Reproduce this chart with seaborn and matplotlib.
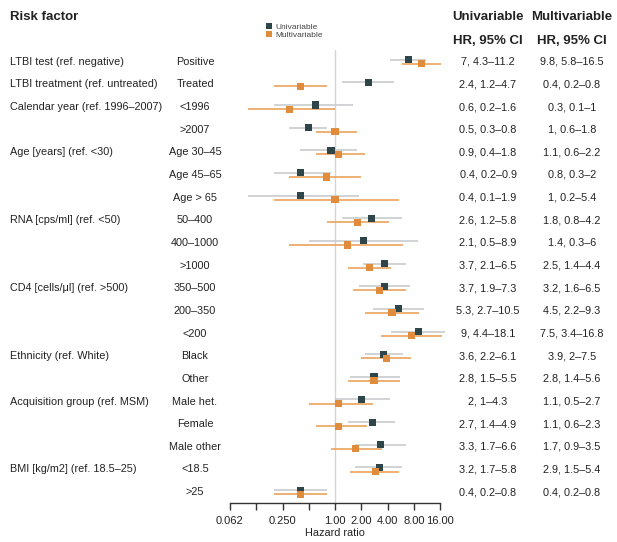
import numpy as np
import pandas as pd
import matplotlib
matplotlib.use("Agg")
import matplotlib.pyplot as plt
import matplotlib.transforms as mtransforms
import seaborn as sns

# ---- data -------------------------------------------------------------
groups = [
    "LTBI test (ref. negative)", "LTBI treatment (ref. untreated)",
    "Calendar year (ref. 1996\u20132007)", "",
    "Age [years] (ref. <30)", "", "",
    "RNA [cps/ml] (ref. <50)", "", "",
    "CD4 [cells/\u03bcl] (ref. >500)", "", "",
    "Ethnicity (ref. White)", "",
    "Acquisition group (ref. MSM)", "", "",
    "BMI [kg/m2] (ref. 18.5\u201325)", "",
]
levels = [
    "Positive", "Treated", "<1996", ">2007",
    "Age 30\u201345", "Age 45\u201365", "Age > 65",
    "50\u2013400", "400\u20131000", ">1000",
    "350\u2013500", "200\u2013350", "<200",
    "Black", "Other",
    "Male het.", "Female", "Male other",
    "<18.5", ">25",
]
uni_hr = [7, 2.4, 0.6, 0.5, 0.9, 0.4, 0.4, 2.6, 2.1, 3.7,
          3.7, 5.3, 9, 3.6, 2.8, 2, 2.7, 3.3, 3.2, 0.4]
uni_lo = [4.3, 1.2, 0.2, 0.3, 0.4, 0.2, 0.1, 1.2, 0.5, 2.1,
          1.9, 2.7, 4.4, 2.2, 1.5, 1, 1.4, 1.7, 1.7, 0.2]
uni_hi = [11.2, 4.7, 1.6, 0.8, 1.8, 0.9, 1.9, 5.8, 8.9, 6.5,
          7.3, 10.5, 18.1, 6.1, 5.5, 4.3, 4.9, 6.6, 5.8, 0.8]
multi_hr = [9.8, 0.4, 0.3, 1, 1.1, 0.8, 1, 1.8, 1.4, 2.5,
            3.2, 4.5, 7.5, 3.9, 2.8, 1.1, 1.1, 1.7, 2.9, 0.4]
multi_lo = [5.8, 0.2, 0.1, 0.6, 0.6, 0.3, 0.2, 0.8, 0.3, 1.4,
            1.6, 2.2, 3.4, 2, 1.4, 0.5, 0.6, 0.9, 1.5, 0.2]
multi_hi = [16.5, 0.8, 1, 1.8, 2.2, 2, 5.4, 4.2, 6, 4.4,
            6.5, 9.3, 16.8, 7.5, 5.6, 2.7, 2.3, 3.5, 5.4, 0.8]
models = ["Univariable", "Multivariable"]
tick_values = [0.0625, 0.125, 0.25, 0.5, 1, 2, 4, 8, 16]
tick_labels = ["0.062", "", "0.250", "", "1.00", "2.00", "4.00", "8.00", "16.00"]

# ---- styling ----------------------------------------------------------
sns.set_theme(style="white")
plt.rcParams["font.family"] = ["Liberation Sans", "DejaVu Sans"]
TEXT = "#222222"
COL_UNI = "#2E4549"
COL_MULTI = "#E08C3C"
LINE_UNI = "#C8CBCC"
LINE_MULTI = "#EBA35E"
BODY = 7.8

W, H = 617, 542
fig = plt.figure(figsize=(W / 100, H / 100), dpi=100)

def fx(px):
    return px / W

def fy(py):
    return 1 - py / H

# plot panel: x from 230px to 440px, spine at 503px, top at 50px
ax = fig.add_axes([fx(230), fy(503), fx(440) - fx(230), (503 - 50) / H])

n = len(levels)
rows = np.arange(n)
offset = 0.09
df = pd.concat([
    pd.DataFrame({"row": rows, "y": rows - offset, "model": models[0],
                  "hr": uni_hr, "lo": uni_lo, "hi": uni_hi}),
    pd.DataFrame({"row": rows, "y": rows + offset, "model": models[1],
                  "hr": multi_hr, "lo": multi_lo, "hi": multi_hi}),
], ignore_index=True)

ax.axvline(1, color="#D4D4D4", lw=1.0, zorder=0)

line_cols = {models[0]: LINE_UNI, models[1]: LINE_MULTI}
for m in models:
    sub = df[df["model"] == m]
    ax.hlines(sub["y"], sub["lo"], sub["hi"], color=line_cols[m],
              lw=1.2, zorder=1, clip_on=False)

sns.scatterplot(data=df, x="hr", y="y", hue="model", hue_order=models,
                palette={models[0]: COL_UNI, models[1]: COL_MULTI},
                marker="s", s=26, linewidth=0, ax=ax, zorder=3,
                legend=True)

ax.set_xscale("log", base=2)
ax.set_xlim(0.0625, 16)
ax.set_ylim(19.48, -0.517)
ax.set_xticks(tick_values)
ax.set_xticklabels(tick_labels)
ax.xaxis.set_minor_locator(matplotlib.ticker.NullLocator())
ax.set_yticks([])
ax.set_ylabel("")
ax.set_xlabel("Hazard ratio", fontsize=7.8, color=TEXT, labelpad=2)
for s in ["top", "right", "left"]:
    ax.spines[s].set_visible(False)
ax.spines["bottom"].set_color("#333333")
ax.spines["bottom"].set_linewidth(1.0)
ax.tick_params(axis="x", direction="out", length=5, width=1.0,
               color="#333333", labelsize=8, labelcolor=TEXT, pad=4,
               bottom=True)
ax.patch.set_alpha(0)

# legend above the panel
handles, labels = ax.get_legend_handles_labels()
ax.get_legend().remove()
leg = fig.legend(handles, labels, loc="upper left",
                 bbox_to_anchor=(fx(261), fy(19)), frameon=False,
                 fontsize=6, handletextpad=0.2, labelspacing=0.05,
                 borderpad=0, handlelength=1.0, markerscale=0.9)
for t in leg.get_texts():
    t.set_color("#444444")

# table text
trans = mtransforms.blended_transform_factory(fig.transFigure, ax.transData)

def fmt(v):
    return f"{v:g}"

for i in range(n):
    if groups[i]:
        ax.text(fx(10), i, groups[i], transform=trans, fontsize=BODY,
                color=TEXT, ha="left", va="center")
    ax.text(fx(195), i, levels[i], transform=trans, fontsize=BODY,
            color=TEXT, ha="center", va="center")
    ax.text(fx(488), i, f"{fmt(uni_hr[i])}, {fmt(uni_lo[i])}\u2013{fmt(uni_hi[i])}",
            transform=trans, fontsize=BODY, color=TEXT, ha="center", va="center")
    ax.text(fx(572), i, f"{fmt(multi_hr[i])}, {fmt(multi_lo[i])}\u2013{fmt(multi_hi[i])}",
            transform=trans, fontsize=BODY, color=TEXT, ha="center", va="center")

fig.text(fx(10), fy(17), "Risk factor", fontsize=9.5, fontweight="bold",
         color=TEXT, ha="left", va="center")
fig.text(fx(488), fy(17), "Univariable", fontsize=9.5, fontweight="bold",
         color=TEXT, ha="center", va="center")
fig.text(fx(572), fy(17), "Multivariable", fontsize=9.5, fontweight="bold",
         color=TEXT, ha="center", va="center")
fig.text(fx(488), fy(41), "HR, 95% CI", fontsize=9.5, fontweight="bold",
         color=TEXT, ha="center", va="center")
fig.text(fx(572), fy(41), "HR, 95% CI", fontsize=9.5, fontweight="bold",
         color=TEXT, ha="center", va="center")

fig.savefig("out.png", dpi=100, facecolor="white")
